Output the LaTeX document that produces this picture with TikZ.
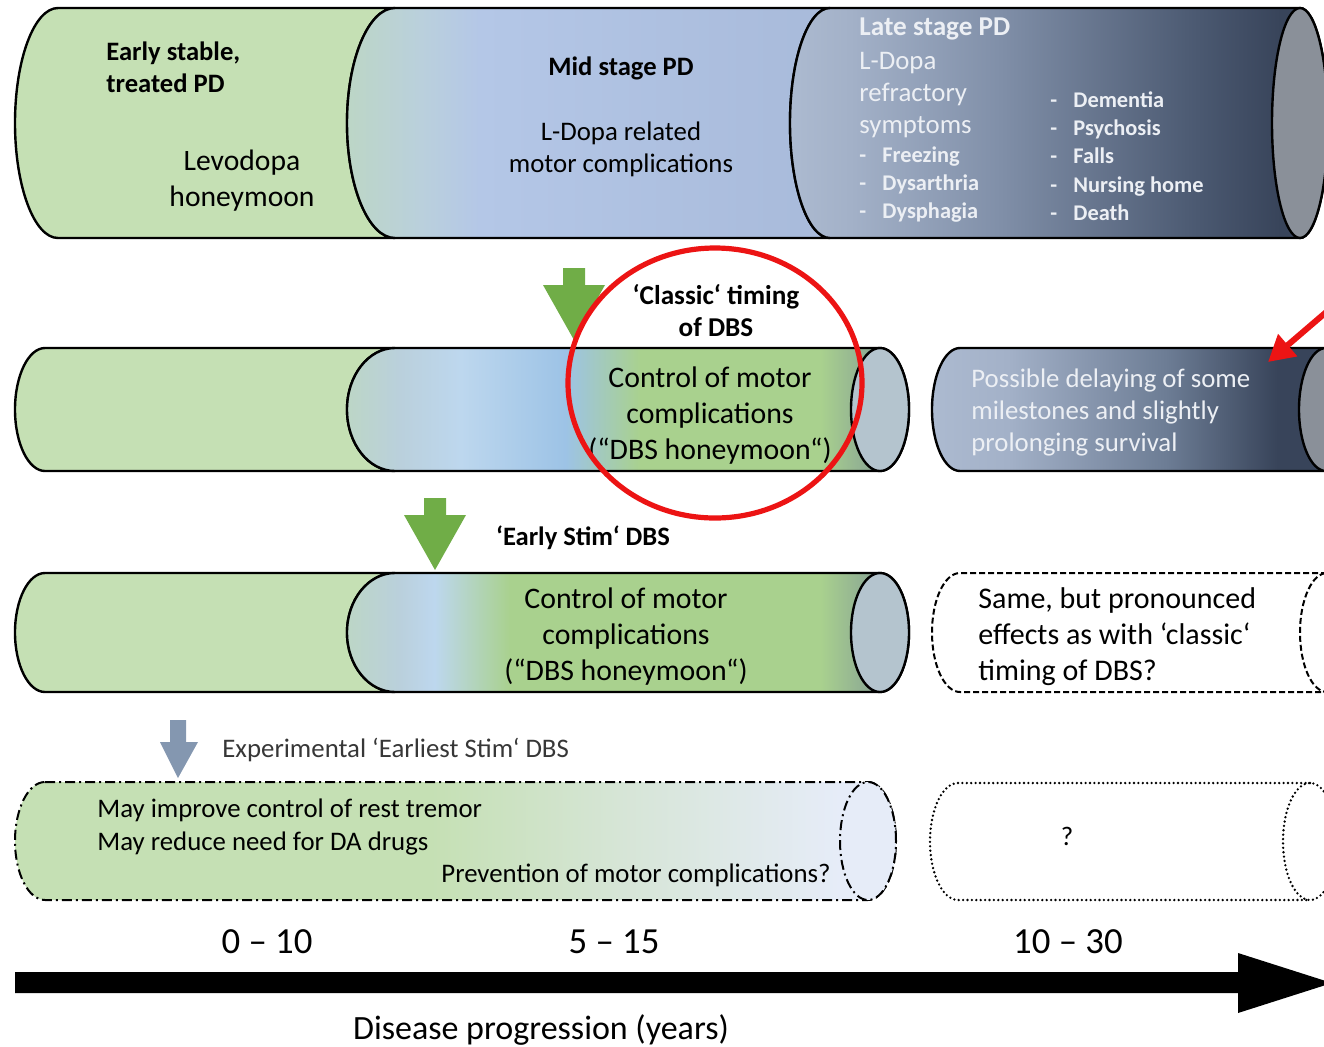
\documentclass[tikz,border=0pt]{standalone}
\usepackage{fontspec}
\setmainfont{Carlito}
\usetikzlibrary{arrows.meta}

\definecolor{pdgreen}{RGB}{197,224,180}
\definecolor{pdteal}{RGB}{188,214,198}
\definecolor{pdtealblue}{RGB}{186,208,220}
\definecolor{pdblue}{RGB}{180,199,231}
\definecolor{pdbluedk}{RGB}{168,186,218}
\definecolor{pdskyl}{RGB}{189,215,238}
\definecolor{pdsky}{RGB}{157,195,230}
\definecolor{pdleaf}{RGB}{169,209,142}
\definecolor{pdsage}{RGB}{138,166,148}
\definecolor{pdmint}{RGB}{214,229,214}
\definecolor{pdpale}{RGB}{230,236,248}
\definecolor{slateA}{RGB}{172,186,208}
\definecolor{slateB}{RGB}{163,177,200}
\definecolor{slateC}{RGB}{128,143,168}
\definecolor{slateD}{RGB}{108,124,148}
\definecolor{slateE}{RGB}{74,88,112}
\definecolor{slateF}{RGB}{56,68,90}
\definecolor{capgray}{RGB}{138,144,153}
\definecolor{capblue}{RGB}{180,196,206}
\definecolor{arrgreen}{RGB}{112,173,71}
\definecolor{arrslate}{RGB}{132,151,176}
\definecolor{pdred}{RGB}{236,20,20}
\definecolor{pdwhite}{RGB}{236,239,244}
\definecolor{pdtext}{RGB}{55,55,55}

% Verlaeufe (0..100bp, Pfad = 25..75bp)
\pgfdeclarehorizontalshading{midstage}{100bp}{color(0bp)=(pdteal); color(25bp)=(pdteal); color(32.6bp)=(pdtealblue); color(38.8bp)=(pdblue); color(75bp)=(pdbluedk); color(100bp)=(pdbluedk)}
\pgfdeclarehorizontalshading{latestage}{100bp}{color(0bp)=(slateA); color(25bp)=(slateA); color(30.6bp)=(slateB); color(44.6bp)=(slateC); color(63.2bp)=(slateE); color(70.6bp)=(slateF); color(100bp)=(slateF)}
\pgfdeclarehorizontalshading{classicdbs}{100bp}{color(0bp)=(pdteal); color(25bp)=(pdteal); color(29.7bp)=(pdtealblue); color(35.1bp)=(pdskyl); color(44.4bp)=(pdsky); color(51.1bp)=(pdleaf); color(67.1bp)=(pdleaf); color(72bp)=(pdsage); color(100bp)=(pdsage)}
\pgfdeclarehorizontalshading{earlydbs}{100bp}{color(0bp)=(pdteal); color(25bp)=(pdteal); color(29.7bp)=(pdtealblue); color(32.8bp)=(pdskyl); color(39.5bp)=(pdleaf); color(67.1bp)=(pdleaf); color(72bp)=(pdsage); color(100bp)=(pdsage)}
\pgfdeclarehorizontalshading{delaydbs}{100bp}{color(0bp)=(slateA); color(25bp)=(slateA); color(34bp)=(slateB); color(53bp)=(slateD); color(66bp)=(slateF); color(100bp)=(slateF)}
\pgfdeclarehorizontalshading{earliest}{100bp}{color(0bp)=(pdgreen); color(25bp)=(pdgreen); color(48.6bp)=(pdgreen); color(59.3bp)=(pdmint); color(71.8bp)=(pdpale); color(100bp)=(pdpale)}

\begin{document}
\begin{tikzpicture}[x=0.5pt, y=-0.5pt,
  tube/.style={draw=black, line width=1.2pt},
  dashtube/.style={draw=black, line width=1pt, dash pattern=on 3pt off 1.5pt},
  dashdottube/.style={draw=black, line width=1pt, dash pattern=on 5pt off 2pt on 1pt off 2pt},
  dottube/.style={draw=black, line width=1.3pt, line cap=round, dash pattern=on 0pt off 2.2pt},
  txt/.style={inner sep=0pt, align=center, font=\fontsize{13.4}{16}\selectfont},
  big/.style={inner sep=0pt, align=center, font=\fontsize{14.9}{18}\selectfont},
  head/.style={inner sep=0pt, align=center, font=\bfseries\fontsize{13.3}{16}\selectfont},
  item/.style={inner sep=0pt, anchor=base west, text=pdwhite, font=\bfseries\fontsize{11.2}{14}\selectfont},
  axis/.style={inner sep=0pt, font=\fontsize{18.4}{22}\selectfont}]
\useasboundingbox (0,0) rectangle (1324,1046);
\clip (0,0) rectangle (1324,1046);
% Zeile 1: Verlauf ohne DBS
\draw[tube, fill=pdgreen] (58,8) -- (395,8) arc[start angle=90, end angle=270, x radius=24pt, y radius=57.5pt] -- (58,238) arc[start angle=270, end angle=90, x radius=21.5pt, y radius=57.5pt] -- cycle;
\shadedraw[tube, shading=midstage] (395,8) -- (830,8) arc[start angle=90, end angle=270, x radius=20pt, y radius=57.5pt] -- (395,238) arc[start angle=270, end angle=90, x radius=24pt, y radius=57.5pt] -- cycle;
\shadedraw[tube, shading=latestage] (830,8) -- (1300,8) arc[start angle=90, end angle=-90, x radius=14pt, y radius=57.5pt] -- (830,238) arc[start angle=270, end angle=90, x radius=20pt, y radius=57.5pt] -- cycle;
\draw[tube, fill=capgray] (1300,123) ellipse[x radius=14pt, y radius=57.5pt];
\node[head, align=left, anchor=west] (earlyhd) at (106,67) {Early stable,\\treated PD};
\node[big, font=\fontsize{14.8}{18}\selectfont] (levo) at (242,181) {Levodopa\\honeymoon};
\node[head] (midhd) at (621,68) {Mid stage PD};
\node[txt] (midtxt) at (621,149) {L-Dopa related\\motor complications};
\node[head, anchor=west, text=pdwhite, font=\bfseries\fontsize{13.6}{16}\selectfont] (latehd) at (859,29) {Late stage PD};
\node[txt, align=left, anchor=west, text=pdwhite] (latetxt) at (859,95) {L-Dopa\\refractory\\symptoms};
\foreach \w [count=\i] in {Freezing, Dysarthria, Dysphagia}
  \node[item] (sym-\i) at (859,134+28.3*\i) {\makebox[11.5pt][l]{-}\w};
\foreach \w [count=\i] in {Dementia, Psychosis, Falls, Nursing home, Death}
  \node[item] (mile-\i) at (1050,79+28.3*\i) {\makebox[11.5pt][l]{-}\w};
% Zeile 2: klassische DBS
\draw[tube, fill=pdgreen] (45,348) -- (395,348) arc[start angle=90, end angle=270, x radius=24pt, y radius=30.75pt] -- (45,471) arc[start angle=270, end angle=90, x radius=15pt, y radius=30.75pt] -- cycle;
\shadedraw[tube, shading=classicdbs] (395,348) -- (880,348) arc[start angle=90, end angle=-90, x radius=14.5pt, y radius=30.75pt] -- (395,471) arc[start angle=270, end angle=90, x radius=24pt, y radius=30.75pt] -- cycle;
\draw[tube, fill=capblue] (880,409.5) ellipse[x radius=14.5pt, y radius=30.75pt];
\shadedraw[tube, shading=delaydbs] (960,348) -- (1326,348) arc[start angle=90, end angle=-90, x radius=13.5pt, y radius=30.75pt] -- (960,471) arc[start angle=270, end angle=90, x radius=14pt, y radius=30.75pt] -- cycle;
\draw[tube, fill=capgray] (1326,409.5) ellipse[x radius=13.5pt, y radius=30.75pt];
\node[head, font=\bfseries\fontsize{13.6}{16}\selectfont] (classichd) at (716,311) {‘Classic‘ timing\\of DBS};
\node[big] (ctrlA) at (710,416) {Control of motor\\complications\\(“DBS honeymoon“)};
\node[txt, align=left, anchor=west, text=pdwhite] (delay) at (971,412) {Possible delaying of some\\milestones and slightly\\prolonging survival};
% Zeile 3: fruehe DBS
\draw[tube, fill=pdgreen] (45,573) -- (395,573) arc[start angle=90, end angle=270, x radius=24pt, y radius=29.75pt] -- (45,692) arc[start angle=270, end angle=90, x radius=15pt, y radius=29.75pt] -- cycle;
\shadedraw[tube, shading=earlydbs] (395,573) -- (880,573) arc[start angle=90, end angle=-90, x radius=14.5pt, y radius=29.75pt] -- (395,692) arc[start angle=270, end angle=90, x radius=24pt, y radius=29.75pt] -- cycle;
\draw[tube, fill=capblue] (880,632.5) ellipse[x radius=14.5pt, y radius=29.75pt];
\draw[dashtube] (1327,573) -- (960,573) arc[start angle=90, end angle=270, x radius=14pt, y radius=29.75pt] -- (1327,692);
\draw[dashtube] (1327,632.5) ellipse[x radius=13.5pt, y radius=29.75pt];
\node[head] (stimhd) at (583,538) {‘Early Stim‘ DBS};
\node[big] (ctrlB) at (626,637) {Control of motor\\complications\\(“DBS honeymoon“)};
\node[big, align=left, anchor=west, font=\fontsize{15}{18}\selectfont] (same) at (978,637) {Same, but pronounced\\effects as with ‘classic‘\\timing of DBS?};
% Zeile 4: experimentell
\shadedraw[dashdottube, shading=earliest] (45,782) -- (868,782) arc[start angle=90, end angle=-90, x radius=14pt, y radius=29.5pt] -- (45,900) arc[start angle=270, end angle=90, x radius=15pt, y radius=29.5pt] -- cycle;
\draw[dashdottube, fill=pdpale] (868,841) ellipse[x radius=14pt, y radius=29.5pt];
\draw[dottube] (1310,783) -- (958,783) arc[start angle=90, end angle=270, x radius=14pt, y radius=29.25pt] -- (1310,900);
\draw[dottube] (1310,841.5) ellipse[x radius=13.5pt, y radius=29.25pt];
\node[txt, anchor=west, text=pdtext] (exphd) at (222,750) {Experimental ‘Earliest Stim‘ DBS};
\node[txt, align=left, anchor=west, font=\fontsize{13.4}{16.5}\selectfont] (may) at (97,827) {May improve control of rest tremor\\May reduce need for DA drugs};
\node[txt, anchor=east] (prev) at (831,875) {Prevention of motor complications?};
\node[txt] (unknown) at (1067,836) {?};
% Pfeile
\fill[arrgreen] (563,268) -- (585,268) -- (585,285) -- (605,285) -- (574,340) -- (543,285) -- (563,285) -- cycle;
\fill[arrgreen] (424,498) -- (446,498) -- (446,515) -- (466,515) -- (435,570) -- (404,515) -- (424,515) -- cycle;
\fill[arrslate] (170,720) -- (186,720) -- (186,742) -- (198,742) -- (178,778) -- (160,742) -- (170,742) -- cycle;
% Markierung
\draw[pdred, line width=2.6pt] (715,383) ellipse[x radius=73.5pt, y radius=67.5pt];
\coordinate (redtail) at (1352,290);
\coordinate (redtip) at (1268,362);
\draw[pdred, line width=3pt, -{Triangle[length=13pt, width=14pt]}] (redtail) -- (redtip);
% Zeitachse
\fill[black] (15,972) -- (1238,972) -- (1238,953) -- (1332,983) -- (1238,1013) -- (1238,993) -- (15,993) -- cycle;
\node[axis] (t1) at (267,942) {0 – 10};
\node[axis] (t2) at (614,942) {5 – 15};
\node[axis] (t3) at (1068,942) {10 – 30};
\node[inner sep=0pt, font=\fontsize{17}{20}\selectfont] (prog) at (541,1030) {Disease progression (years)};
\end{tikzpicture}
\end{document}
